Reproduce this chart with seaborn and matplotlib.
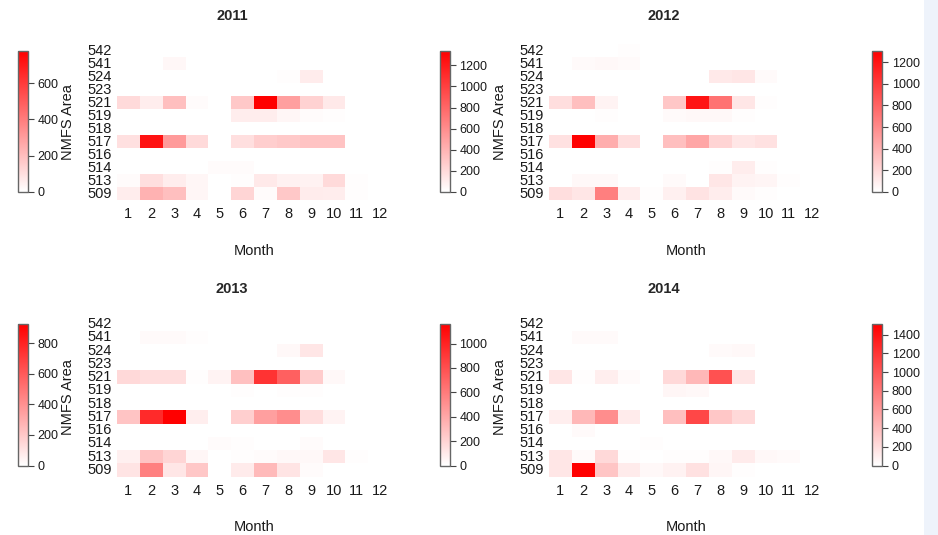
import numpy as np
import pandas as pd
import seaborn as sns
import matplotlib
matplotlib.use('Agg')
import matplotlib.pyplot as plt
from matplotlib.colors import LinearSegmentedColormap, Normalize
from matplotlib.cm import ScalarMappable
from matplotlib.transforms import Bbox, TransformedBbox
from matplotlib.patches import Rectangle

sns.set_style('white')
plt.rcParams['font.family'] = ['Liberation Sans', 'DejaVu Sans']

# data
areas = ['542', '541', '524', '523', '521', '519', '518', '517', '516', '514', '513', '509']
months = [1, 2, 3, 4, 5, 6, 7, 8, 9, 10, 11, 12]
years = ['2011', '2012', '2013', '2014']

v2011 = [
    [0, 0, 0, 0, 0, 0, 0, 0, 0, 0, 0, 0],
    [0, 0, 25, 0, 0, 0, 0, 0, 0, 0, 0, 0],
    [0, 0, 0, 0, 0, 0, 0, 8, 60, 0, 0, 0],
    [0, 0, 0, 0, 0, 0, 0, 0, 0, 0, 0, 0],
    [115, 55, 195, 15, 0, 170, 780, 295, 140, 70, 0, 0],
    [0, 0, 0, 0, 0, 55, 55, 30, 15, 8, 0, 0],
    [0, 0, 0, 0, 0, 0, 0, 0, 0, 0, 0, 0],
    [95, 725, 310, 115, 0, 100, 150, 165, 185, 185, 0, 0],
    [0, 0, 0, 0, 0, 0, 0, 0, 0, 0, 0, 0],
    [0, 0, 0, 0, 15, 15, 0, 0, 0, 0, 0, 0],
    [15, 100, 55, 30, 0, 8, 70, 45, 40, 115, 8, 0],
    [55, 235, 195, 30, 0, 130, 15, 170, 60, 55, 8, 0],
]
v2012 = [
    [0, 0, 0, 15, 0, 0, 0, 0, 0, 0, 0, 0],
    [0, 27, 40, 27, 0, 0, 0, 0, 0, 0, 0, 0],
    [0, 0, 0, 0, 0, 0, 0, 120, 135, 27, 0, 0],
    [0, 0, 0, 0, 0, 0, 0, 0, 0, 0, 0, 0],
    [175, 335, 65, 0, 0, 295, 1235, 740, 135, 15, 0, 0],
    [0, 0, 15, 0, 0, 27, 40, 40, 15, 0, 0, 0],
    [0, 0, 0, 0, 0, 0, 0, 0, 0, 0, 0, 0],
    [160, 1340, 430, 175, 0, 335, 470, 230, 135, 160, 0, 0],
    [0, 0, 0, 0, 0, 0, 0, 0, 0, 0, 0, 0],
    [0, 0, 0, 0, 0, 0, 0, 15, 95, 15, 0, 0],
    [0, 40, 40, 0, 0, 27, 0, 135, 65, 55, 15, 0],
    [175, 135, 670, 95, 15, 80, 150, 95, 27, 15, 0, 0],
]
v2013 = [
    [0, 0, 0, 0, 0, 0, 0, 0, 0, 0, 0, 0],
    [0, 20, 20, 10, 0, 0, 0, 0, 0, 0, 0, 0],
    [0, 0, 0, 0, 0, 0, 0, 28, 92, 0, 0, 0],
    [0, 0, 0, 0, 0, 0, 0, 0, 0, 0, 0, 0],
    [140, 120, 120, 10, 45, 230, 740, 575, 185, 28, 0, 0],
    [0, 0, 0, 0, 0, 10, 0, 10, 10, 0, 0, 0],
    [0, 0, 0, 0, 0, 0, 0, 0, 0, 0, 0, 0],
    [215, 770, 925, 65, 0, 175, 350, 415, 120, 45, 0, 0],
    [0, 0, 0, 0, 0, 0, 0, 0, 0, 0, 0, 0],
    [0, 0, 0, 0, 18, 10, 0, 0, 18, 0, 0, 0],
    [55, 215, 155, 35, 0, 10, 18, 28, 28, 92, 10, 0],
    [100, 460, 92, 205, 0, 75, 250, 100, 18, 0, 0, 0],
]
v2014 = [
    [0, 0, 0, 0, 0, 0, 0, 0, 0, 0, 0, 0],
    [0, 23, 23, 0, 0, 0, 0, 0, 0, 0, 0, 0],
    [0, 0, 0, 0, 0, 0, 0, 23, 35, 0, 0, 0],
    [0, 0, 0, 0, 0, 0, 0, 0, 0, 0, 0, 0],
    [115, 12, 80, 23, 0, 175, 325, 790, 115, 0, 0, 0],
    [0, 0, 0, 0, 0, 45, 35, 0, 0, 0, 0, 0],
    [0, 0, 0, 0, 0, 0, 0, 0, 0, 0, 0, 0],
    [80, 325, 520, 95, 0, 290, 835, 255, 175, 0, 0, 0],
    [0, 23, 0, 0, 0, 0, 0, 0, 0, 0, 0, 0],
    [0, 0, 0, 0, 12, 0, 0, 0, 0, 0, 0, 0],
    [115, 23, 175, 12, 0, 12, 12, 35, 95, 35, 23, 0],
    [115, 1160, 265, 95, 35, 60, 140, 45, 12, 0, 0, 0],
]
values = [v2011, v2012, v2013, v2014]

# colour bar ranges as drawn, three per row
cbar_max_row1 = [780, 1340, 1308]
cbar_max_row2 = [925, 1160, 1516]

W, H = 938, 535
cmap = LinearSegmentedColormap.from_list('wr', ['white', 'red'])
fig = plt.figure(figsize=(W / 100, H / 100), dpi=100)
fig.patch.set_facecolor('white')
fig.patches.append(Rectangle((924 / W, 0), 14 / W, 1, transform=fig.transFigure,
                             facecolor='#eef3fb', edgecolor='none', zorder=-1))

def px(x0, y0, x1, y1):
    return [x0 / W, 1 - y1 / H, (x1 - x0) / W, (y1 - y0) / H]

hm_x = [(117, 391), (549, 823)]
hm_y = [(44.2, 200.4), (317.4, 476.6)]
cb_x = [(17.5, 27.5), (439.5, 449.5), (872, 882)]
cb_y = [(50.7, 191.7), (324, 465.5)]

for i, yr in enumerate(years):
    r, c = divmod(i, 2)
    ax = fig.add_axes(px(hm_x[c][0], hm_y[r][0], hm_x[c][1], hm_y[r][1]))
    df = pd.DataFrame(values[i], index=areas, columns=months)
    sns.heatmap(df, ax=ax, cmap=cmap, vmin=0, vmax=np.max(values[i]), cbar=False,
                xticklabels=True, yticklabels=True)
    ax.tick_params(axis='both', length=0, labelsize=10.5, labelcolor='#1a1a1a')
    ax.tick_params(axis='x', pad=5, labelrotation=0)
    ax.tick_params(axis='y', pad=3.5, labelrotation=0)
    ax.set_xlabel('Month', fontsize=10.5, labelpad=16, color='#1a1a1a')
    ax.set_ylabel('NMFS Area', fontsize=10.5, labelpad=9, color='#1a1a1a')
    ax.set_title(yr, fontsize=10.5, fontweight='bold', pad=17.5, x=0.42)

for r, maxes in enumerate([cbar_max_row1, cbar_max_row2]):
    for k, vmax in enumerate(maxes):
        cax = fig.add_axes(px(cb_x[k][0], cb_y[r][0], cb_x[k][1], cb_y[r][1]))
        sm = ScalarMappable(norm=Normalize(0, vmax), cmap=cmap)
        cb = fig.colorbar(sm, cax=cax, ticks=np.arange(0, vmax + 1, 200))
        cb.outline.set_edgecolor('#666666')
        cb.outline.set_linewidth(1.0)
        cax.tick_params(length=4, width=0.8, color='#444444', labelsize=9,
                        labelcolor='#1a1a1a', pad=3)
        if k == 0:
            clip = TransformedBbox(Bbox([[0, 0], [58 / W, 1]]), fig.transFigure)
            for lbl in cax.get_yticklabels():
                lbl.set_clip_box(clip)
                lbl.set_clip_on(True)

fig.savefig('out.png', dpi=100, facecolor=fig.get_facecolor())
